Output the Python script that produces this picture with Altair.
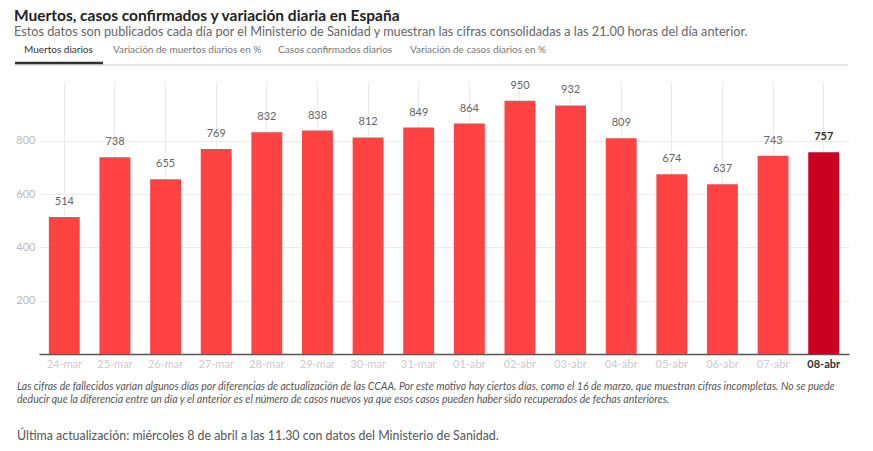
import altair as alt
import pandas as pd

fechas = ["24-mar", "25-mar", "26-mar", "27-mar", "28-mar", "29-mar", "30-mar", "31-mar",
          "01-abr", "02-abr", "03-abr", "04-abr", "05-abr", "06-abr", "07-abr", "08-abr"]
muertos = [514, 738, 655, 769, 832, 838, 812, 849, 864, 950, 932, 809, 674, 637, 743, 757]
ultimo = "08-abr"

titulo = "Muertos, casos confirmados y variación diaria en España"
subtitulo = ("Estos datos son publicados cada día por el Ministerio de Sanidad y muestran "
             "las cifras consolidadas a las 21.00 horas del día anterior.")
pestanas = ["Muertos diarios", "Variación de muertos diarios en %",
            "Casos confirmados diarios", "Variación de casos diarios en %"]
nota1 = ("Las cifras de fallecidos varían algunos días por diferencias de actualización de las CCAA. "
         "Por este motivo hay ciertos días, como el 16 de marzo, que muestran cifras incompletas. No se puede")
nota2 = ("deducir que la diferencia entre un día y el anterior es el número de casos nuevos ya que esos "
         "casos pueden haber sido recuperados de fechas anteriores.")
actualizacion = "Última actualización: miércoles 8 de abril a las 11.30 con datos del Ministerio de Sanidad."

df = pd.DataFrame({"fecha": fechas, "muertos": muertos})
df["ultimo"] = df["fecha"] == ultimo

W, H = 810, 272
FONT = "Lato"

x = alt.X("fecha:N", sort=fechas, title=None,
          scale=alt.Scale(paddingInner=0.39, paddingOuter=0.195),
          axis=alt.Axis(labelAngle=0, labelColor=alt.expr(f"datum.value == '{ultimo}' ? '#333333' : '#cccccc'"),
                        labelFontSize=11, labelFont=FONT,
                        labelPadding=4, ticks=False, domainColor="#555555", domainWidth=1.5,
                        grid=True, gridColor="#ebebeb", bandPosition=0.5,
                        labelFontWeight=alt.expr(f"datum.value == '{ultimo}' ? 'bold' : 'normal'"),
                        ))
y = alt.Y("muertos:Q", title=None,
          scale=alt.Scale(domain=[0, 1020], nice=False),
          axis=alt.Axis(values=[200, 400, 600, 800], labelColor="#bbbbbb", labelFontSize=11,
                        labelFont=FONT, labelPadding=4, ticks=False, domain=False,
                        gridColor="#ebebeb"))

base = alt.Chart(df)

bars = base.mark_bar().encode(
    x=x, y=y,
    color=alt.Color("ultimo:N", scale=alt.Scale(domain=[False, True], range=["#ff4343", "#cc0020"]),
                    legend=None),
)

labels = base.mark_text(baseline="middle", dy=-15, fontSize=11, font=FONT, color="#666666").encode(
    x=alt.X("fecha:N", sort=fechas),
    y="muertos:Q",
    text="muertos:Q",
).transform_filter("!datum.ultimo")

labels_last = base.mark_text(baseline="middle", dy=-15, fontSize=11, font=FONT, color="#333333",
                             fontWeight="bold").encode(
    x=alt.X("fecha:N", sort=fechas),
    y="muertos:Q",
    text="muertos:Q",
).transform_filter("datum.ultimo")

one = alt.Data(values=[{"a": 1}])

def txt(s, xp, yp, size, color, weight="normal", style="normal", baseline="middle"):
    return alt.Chart(one).mark_text(align="left", baseline=baseline, fontSize=size, font=FONT,
                                    color=color, fontWeight=weight, fontStyle=style).encode(
        x=alt.value(xp), y=alt.value(yp), text=alt.value(s))

layers = [bars, labels, labels_last]
layers.append(txt(titulo, -25, -61, 15.5, "#222222", "bold", baseline="alphabetic"))
layers.append(txt(subtitulo, -25, -50, 12.7, "#666666"))
tab_x = [-15, 74, 239, 371]
for i, (t, tx) in enumerate(zip(pestanas, tab_x)):
    layers.append(txt(t, tx, -32, 10, "#333333" if i == 0 else "#777777", "normal"))
layers.append(alt.Chart(one).mark_rule(color="#cccccc", strokeWidth=1).encode(
    x=alt.value(-24), x2=alt.value(809), y=alt.value(-17)))
layers.append(alt.Chart(one).mark_rule(color="#333333", strokeWidth=2.5).encode(
    x=alt.value(-24), x2=alt.value(64), y=alt.value(-19)))
layers.append(txt(nota1, -22, 305, 10.5, "#555555", style="italic"))
layers.append(txt(nota2, -22, 318, 10.5, "#555555", style="italic"))
layers.append(txt(actualizacion, -22, 358, 12.4, "#555555", baseline="alphabetic"))

chart = alt.layer(*layers).properties(
    width=W, height=H,
    autosize=alt.AutoSizeParams(type="none"),
    padding={"left": 31, "top": 74, "right": 16, "bottom": 89},
).configure_view(stroke=None)

chart.save("out.html", embed_options={"renderer": "svg", "actions": False})
